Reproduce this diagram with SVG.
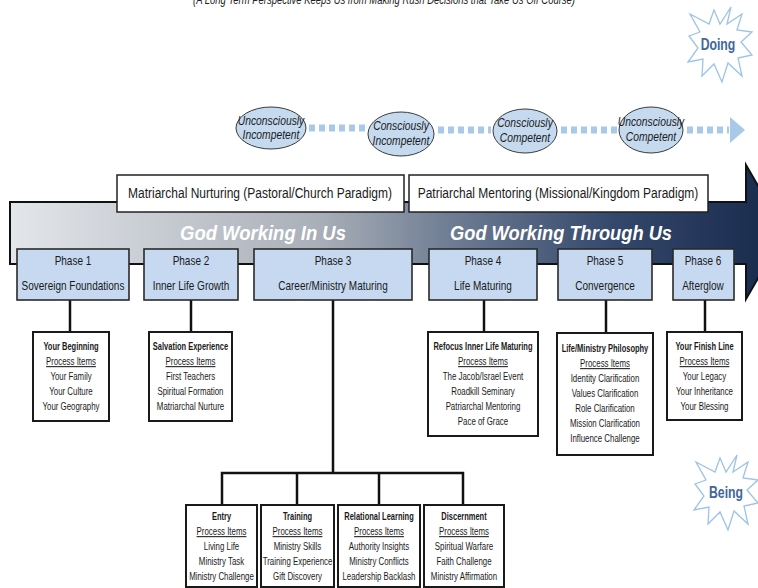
<svg xmlns="http://www.w3.org/2000/svg" width="758" height="588" viewBox="0 0 758 588">
<style>
text{font-family:'Liberation Sans',Arial,sans-serif;fill:#1a1a1a;text-anchor:middle}
.ttl{font-style:italic;font-size:12px;fill:#222}
.star{fill:#fff;stroke:#9dc3e6;stroke-width:1.3}
.startxt{font-weight:bold;font-size:17px;fill:#41679a}
.ell{fill:#c5d9ef;stroke:#3a3a3a;stroke-width:1}
.et{font-style:italic;font-size:12px}
.dash{stroke:#a9c9e8;stroke-width:7;stroke-dasharray:6 4;fill:none}
.para{fill:#fff;stroke:#222;stroke-width:1.5}
.pt{font-size:15px}
.gw{font-weight:bold;font-style:italic;font-size:21px;fill:#fff}
.ph{fill:#c6d9f0;stroke:#2a2a2a;stroke-width:1.6}
.phx{font-size:13px}
.box{fill:#fff;stroke:#1a1a1a;stroke-width:2}
.d{font-size:10.5px}
.b{font-weight:bold;font-size:10px}
.u{text-decoration:underline}
.con{stroke:#111;stroke-width:2.5;fill:none}
</style>
<defs>
<linearGradient id="bandg" gradientUnits="userSpaceOnUse" x1="10" y1="0" x2="785" y2="0">
<stop offset="0" stop-color="#e3e6ea"/>
<stop offset="0.4" stop-color="#a9afb8"/>
<stop offset="0.56" stop-color="#717f95"/>
<stop offset="0.78" stop-color="#34486c"/>
<stop offset="1" stop-color="#16284a"/>
</linearGradient>
<polygon id="starshape" points="11,-37 7,-20 22,-30 17,-14 32,-12 21,-2 32,11 18,14 22,32 8,19 2,38 -6,20 -18,32 -17,15 -32,18 -22,4 -31,-8 -20,-12 -30,-30 -11,-20 -6,-34 0,-20"/>
</defs>

<text class="ttl" x="384" y="4" textLength="382" lengthAdjust="spacingAndGlyphs">(A Long Term Perspective Keeps Us from Making Rush Decisions that Take Us Off Course)</text>

<g id="doing">
<use href="#starshape" class="star" transform="translate(720,44)"/>
<text class="startxt" x="718" y="50" transform="matrix(0.72,0,0,1,201.04,0)">Doing</text>
</g>
<g id="being">
<use href="#starshape" class="star" transform="translate(726,492)"/>
<text class="startxt" x="726" y="498" transform="matrix(0.72,0,0,1,203.28,0)">Being</text>
</g>

<g id="competence-connectors">
<line class="dash" x1="309" y1="128" x2="367" y2="128"/>
<line class="dash" x1="438" y1="130" x2="491" y2="130"/>
<line class="dash" x1="561" y1="130" x2="618" y2="130"/>
<line class="dash" x1="687" y1="130" x2="729" y2="130"/>
<polygon points="730,117 745,130 730,143" fill="#a9c9e8"/>
</g>

<g id="uc-incompetent">
<ellipse class="ell" cx="271" cy="128" rx="35" ry="21"/>
<g transform="matrix(0.86,0,0,1,37.94,0)">
<text class="et" x="271" y="125">Unconsciously</text>
<text class="et" x="271" y="139">Incompetent</text>
</g>
</g>
<g id="c-incompetent">
<ellipse class="ell" cx="401" cy="134" rx="33" ry="22"/>
<g transform="matrix(0.86,0,0,1,56.14,0)">
<text class="et" x="401" y="130">Consciously</text>
<text class="et" x="401" y="145">Incompetent</text>
</g>
</g>
<g id="c-competent">
<ellipse class="ell" cx="525" cy="131" rx="32" ry="22"/>
<g transform="matrix(0.86,0,0,1,73.5,0)">
<text class="et" x="525" y="127">Consciously</text>
<text class="et" x="525" y="142">Competent</text>
</g>
</g>
<g id="uc-competent">
<ellipse class="ell" cx="651" cy="130" rx="32" ry="23"/>
<g transform="matrix(0.86,0,0,1,91.14,0)">
<text class="et" x="651" y="126">Unconsciously</text>
<text class="et" x="651" y="141">Competent</text>
</g>
</g>

<g id="band">
<path d="M10,202 H746 V165 L785,232 L746,299 V264 H10 Z" fill="url(#bandg)" stroke="#111" stroke-width="2"/>
<text class="gw" x="263" y="240" textLength="166" lengthAdjust="spacingAndGlyphs">God Working In Us</text>
<text class="gw" x="561" y="240" textLength="222" lengthAdjust="spacingAndGlyphs">God Working Through Us</text>
</g>

<g id="matriarchal">
<rect class="para" x="117" y="175" width="287" height="37"/>
<text class="pt" x="260" y="198" transform="matrix(0.8,0,0,1,52,0)">Matriarchal Nurturing (Pastoral/Church Paradigm)</text>
</g>
<g id="patriarchal">
<rect class="para" x="409" y="175" width="299" height="37"/>
<text class="pt" x="558" y="198" transform="matrix(0.8,0,0,1,111.6,0)">Patriarchal Mentoring (Missional/Kingdom Paradigm)</text>
</g>

<g id="connectors">
<line class="con" x1="70" y1="300" x2="70" y2="332"/>
<line class="con" x1="191" y1="300" x2="191" y2="332"/>
<line class="con" x1="333" y1="300" x2="333" y2="473"/>
<polyline class="con" points="222,505 222,473 463,473 463,505"/>
<line class="con" x1="297" y1="473" x2="297" y2="505"/>
<line class="con" x1="379" y1="473" x2="379" y2="505"/>
<line class="con" x1="484" y1="300" x2="484" y2="332"/>
<line class="con" x1="606" y1="300" x2="606" y2="333"/>
<line class="con" x1="705" y1="300" x2="705" y2="332"/>
</g>

<g id="phase1">
<rect class="ph" x="17" y="249" width="112" height="51"/>
<g transform="matrix(0.77,0,0,1,16.79,0)">
<text class="phx" x="73" y="265">Phase 1</text>
<text class="phx" x="73" y="290">Sovereign Foundations</text>
</g>
</g>
<g id="phase2">
<rect class="ph" x="144" y="249" width="94" height="51"/>
<g transform="matrix(0.77,0,0,1,43.93,0)">
<text class="phx" x="191" y="265">Phase 2</text>
<text class="phx" x="191" y="290">Inner Life Growth</text>
</g>
</g>
<g id="phase3">
<rect class="ph" x="254" y="249" width="158" height="51"/>
<g transform="matrix(0.77,0,0,1,76.59,0)">
<text class="phx" x="333" y="265">Phase 3</text>
<text class="phx" x="333" y="290">Career/Ministry Maturing</text>
</g>
</g>
<g id="phase4">
<rect class="ph" x="429" y="249" width="108" height="51"/>
<g transform="matrix(0.77,0,0,1,111.09,0)">
<text class="phx" x="483" y="265">Phase 4</text>
<text class="phx" x="483" y="290">Life Maturing</text>
</g>
</g>
<g id="phase5">
<rect class="ph" x="558" y="249" width="94" height="51"/>
<g transform="matrix(0.77,0,0,1,139.15,0)">
<text class="phx" x="605" y="265">Phase 5</text>
<text class="phx" x="605" y="290">Convergence</text>
</g>
</g>
<g id="phase6">
<rect class="ph" x="673" y="249" width="61" height="51"/>
<g transform="matrix(0.77,0,0,1,161.69,0)">
<text class="phx" x="703" y="265">Phase 6</text>
<text class="phx" x="703" y="290">Afterglow</text>
</g>
</g>

<g id="your-beginning">
<rect class="box" x="33" y="332" width="76" height="89"/>
<g transform="matrix(0.75,0,0,1,17.75,0)">
<text class="d b" x="71" y="350">Your Beginning</text>
<text class="d u" x="71" y="365">Process Items</text>
<text class="d" x="71" y="380">Your Family</text>
<text class="d" x="71" y="395">Your Culture</text>
<text class="d" x="71" y="410">Your Geography</text>
</g>
</g>
<g id="salvation">
<rect class="box" x="149" y="332" width="83" height="89"/>
<g transform="matrix(0.75,0,0,1,47.625,0)">
<text class="d b" x="190.5" y="350">Salvation Experience</text>
<text class="d u" x="190.5" y="365">Process Items</text>
<text class="d" x="190.5" y="380">First Teachers</text>
<text class="d" x="190.5" y="395">Spiritual Formation</text>
<text class="d" x="190.5" y="410">Matriarchal Nurture</text>
</g>
</g>
<g id="refocus">
<rect class="box" x="428" y="332" width="110" height="104"/>
<g transform="matrix(0.75,0,0,1,120.75,0)">
<text class="d b" x="483" y="350">Refocus Inner Life Maturing</text>
<text class="d u" x="483" y="365">Process Items</text>
<text class="d" x="483" y="380">The Jacob/Israel Event</text>
<text class="d" x="483" y="395">Roadkill Seminary</text>
<text class="d" x="483" y="410">Patriarchal Mentoring</text>
<text class="d" x="483" y="425">Pace of Grace</text>
</g>
</g>
<g id="philosophy">
<rect class="box" x="557" y="333" width="96" height="122"/>
<g transform="matrix(0.75,0,0,1,151.25,0)">
<text class="d b" x="605" y="352">Life/Ministry Philosophy</text>
<text class="d u" x="605" y="367">Process Items</text>
<text class="d" x="605" y="382">Identity Clarification</text>
<text class="d" x="605" y="397">Values Clarification</text>
<text class="d" x="605" y="412">Role Clarification</text>
<text class="d" x="605" y="427">Mission Clarification</text>
<text class="d" x="605" y="442">Influence Challenge</text>
</g>
</g>
<g id="finish-line">
<rect class="box" x="667" y="332" width="75" height="88"/>
<g transform="matrix(0.75,0,0,1,176.125,0)">
<text class="d b" x="704.5" y="350">Your Finish Line</text>
<text class="d u" x="704.5" y="365">Process Items</text>
<text class="d" x="704.5" y="380">Your Legacy</text>
<text class="d" x="704.5" y="395">Your Inheritance</text>
<text class="d" x="704.5" y="410">Your Blessing</text>
</g>
</g>

<g id="entry">
<rect class="box" x="186" y="505" width="71" height="82"/>
<g transform="matrix(0.75,0,0,1,55.375,0)">
<text class="d b" x="221.5" y="520">Entry</text>
<text class="d u" x="221.5" y="535">Process Items</text>
<text class="d" x="221.5" y="550">Living Life</text>
<text class="d" x="221.5" y="565">Ministry Task</text>
<text class="d" x="221.5" y="580">Ministry Challenge</text>
</g>
</g>
<g id="training">
<rect class="box" x="261" y="505" width="73" height="82"/>
<g transform="matrix(0.75,0,0,1,74.375,0)">
<text class="d b" x="297.5" y="520">Training</text>
<text class="d u" x="297.5" y="535">Process Items</text>
<text class="d" x="297.5" y="550">Ministry Skills</text>
<text class="d" x="297.5" y="565">Training Experience</text>
<text class="d" x="297.5" y="580">Gift Discovery</text>
</g>
</g>
<g id="relational">
<rect class="box" x="338" y="505" width="82" height="82"/>
<g transform="matrix(0.75,0,0,1,94.75,0)">
<text class="d b" x="379" y="520">Relational Learning</text>
<text class="d u" x="379" y="535">Process Items</text>
<text class="d" x="379" y="550">Authority Insights</text>
<text class="d" x="379" y="565">Ministry Conflicts</text>
<text class="d" x="379" y="580">Leadership Backlash</text>
</g>
</g>
<g id="discernment">
<rect class="box" x="424" y="505" width="80" height="82"/>
<g transform="matrix(0.75,0,0,1,116,0)">
<text class="d b" x="464" y="520">Discernment</text>
<text class="d u" x="464" y="535">Process Items</text>
<text class="d" x="464" y="550">Spiritual Warfare</text>
<text class="d" x="464" y="565">Faith Challenge</text>
<text class="d" x="464" y="580">Ministry Affirmation</text>
</g>
</g>
</svg>
